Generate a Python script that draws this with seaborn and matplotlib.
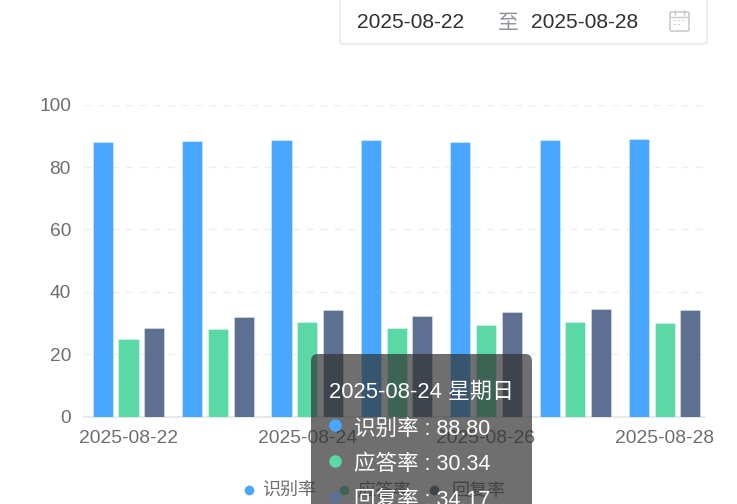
import pandas as pd
import matplotlib
matplotlib.use('Agg')
import matplotlib.pyplot as plt
from matplotlib.patches import FancyBboxPatch, Rectangle
from matplotlib.lines import Line2D
import seaborn as sns

#chart values
dates = ['2025-08-22', '2025-08-23', '2025-08-24', '2025-08-25', '2025-08-26', '2025-08-27', '2025-08-28']
recognize = [88.1, 88.2, 88.80, 88.6, 88.1, 88.6, 88.9]
answer = [25.0, 28.0, 30.34, 28.4, 29.3, 30.4, 30.1]
reply = [28.4, 31.9, 34.17, 32.2, 33.4, 34.5, 34.1]
series_names = ['识别率', '应答率', '回复率']
series_colors = ['#49A7FF', '#5AD8A6', '#5D7092']
yticks = [0, 20, 40, 60, 80, 100]

W, H = 737, 504
FONT = ['Liberation Sans', 'Noto Sans CJK SC']
GREY = '#6E6E6E'

sns.set_theme(style='white')
plt.rcParams['font.family'] = FONT

#long table for seaborn
df = pd.DataFrame({'date': dates, series_names[0]: recognize, series_names[1]: answer, series_names[2]: reply})
df = df.melt(id_vars='date', var_name='series', value_name='value')

fig = plt.figure(figsize=(W / 100, H / 100), dpi=100)
ax = fig.add_axes([83.5 / W, 1 - 416.6 / H, 620.5 / W, 312 / H])

sns.barplot(data=df, x='date', y='value', hue='series', hue_order=series_names,
            palette=series_colors, saturation=1, width=0.865, gap=0.22,
            legend=False, ax=ax, zorder=3, edgecolor='#FFFFFF66', linewidth=0.6)

ax.set_xlim(-0.504, 6.44)
ax.set_ylim(0, 100)
ax.set_xlabel('')
ax.set_ylabel('')
ax.set_yticks(yticks)
ax.set_xticks(range(0, 7, 2))
ax.set_xticklabels(dates[::2])
ax.tick_params(axis='x', length=0, pad=10, labelsize=13.9, labelcolor=GREY)
ax.tick_params(axis='y', length=0, pad=9, labelsize=13.8, labelcolor=GREY)
ax.grid(axis='y', color='#EEEEEE', linestyle=(0, (5, 5)), linewidth=1)
ax.set_axisbelow(True)
sns.despine(ax=ax, left=True, right=True, top=True)
ax.spines['bottom'].set_color('#E8E8E8')
ax.spines['bottom'].set_linewidth(1.5)


def fx(px):
    return px / W


def fy(px):
    return 1 - px / H


#legend under the chart, the tooltip covers part of it
for mx, tx, name, color in zip([249, 344, 434], [262, 357, 452], series_names, series_colors):
    fig.add_artist(Line2D([fx(mx)], [fy(490)], marker='o', markersize=7, color=color, zorder=0.5,
                          markeredgewidth=0, transform=fig.transFigure))
    fig.text(fx(tx), fy(491), name, color=GREY, fontsize=13, va='center', zorder=0.5)

#date picker box
fig.add_artist(FancyBboxPatch((340, H - 44), 367, 60, boxstyle='round,pad=0,rounding_size=3',
                              transform=None, fc='white', ec='#DCDFE6', lw=0.8, zorder=1))
fig.text(fx(357), fy(23), dates[0], color='#303133', fontsize=15.1, va='center', zorder=2)
fig.text(fx(498), fy(24), '至', color='#909399', fontsize=15, va='center', zorder=2)
fig.text(fx(531), fy(23), dates[-1], color='#303133', fontsize=15.1, va='center', zorder=2)

#calendar icon
icon = '#C8CBD0'
fig.add_artist(FancyBboxPatch((670, H - 31), 19, 19, boxstyle='round,pad=0,rounding_size=1.5',
                              transform=None, fc='none', ec=icon, lw=1.2, zorder=2))
fig.add_artist(Line2D([fx(670), fx(689)], [fy(17), fy(17)], color=icon, lw=1, zorder=2))
for px in [675, 684]:
    fig.add_artist(Line2D([fx(px), fx(px)], [fy(10), fy(15)], color=icon, lw=1, zorder=2))
for px, py in [(674, 21), (678, 21), (682, 21), (674, 25), (678, 25)]:
    fig.add_artist(Rectangle((px, H - py), 1.5, 1.5, transform=None, fc=icon, ec='none', zorder=2))

#tooltip for 2025-08-24
fig.add_artist(FancyBboxPatch((311, -30), 221, H + 30 - 354, boxstyle='round,pad=0,rounding_size=7',
                              transform=None, fc=(0.196, 0.196, 0.196, 0.7), ec='none', zorder=5))
fig.text(fx(329), fy(392), f'{dates[2]} 星期日', color='white', fontsize=15.8, va='center', zorder=6)
row_values = [recognize[2], answer[2], reply[2]]
for py, name, val, color in zip([426, 462, 498], series_names, row_values, series_colors):
    fig.add_artist(Line2D([fx(335)], [fy(py - 1)], marker='o', markersize=9, color=color,
                          markeredgewidth=0, transform=fig.transFigure, zorder=6))
    fig.text(fx(354), fy(py + 3), f'{name} : {val:.2f}', color='white', fontsize=15.5, va='center', zorder=6)

fig.savefig('out.png', dpi=100)
